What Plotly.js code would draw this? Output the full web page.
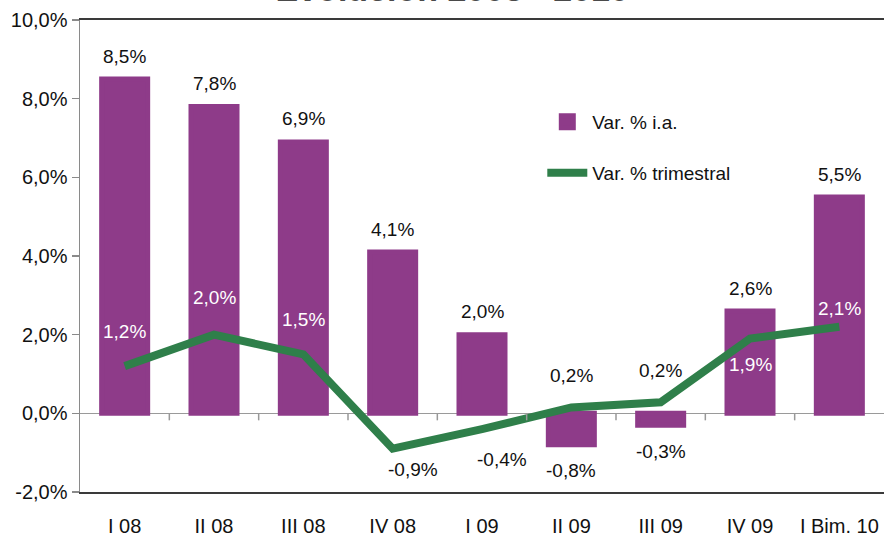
<!DOCTYPE html>
<html>
<head>
<meta charset="utf-8">
<script src="https://cdn.plot.ly/plotly-3.0.1.min.js"></script>
<style>html,body{margin:0;padding:0;background:#fff;}#chart{width:885px;height:540px;}</style>
</head>
<body>
<div id="chart"></div>
<script>
var categories = ["I 08", "II 08", "III 08", "IV 08", "I 09", "II 09", "III 09", "IV 09", "I Bim. 10"];
var varIA = [8.5, 7.8, 6.9, 4.1, 2.0, -0.8, -0.3, 2.6, 5.5];
var varIALabels = ["8,5%", "7,8%", "6,9%", "4,1%", "2,0%", "-0,8%", "-0,3%", "2,6%", "5,5%"];
var varTrim = [1.2, 2.0, 1.5, -0.9, -0.4, 0.15, 0.28, 1.9, 2.2];
var varTrimLabels = ["1,2%", "2,0%", "1,5%", "-0,9%", "-0,4%", "0,2%", "0,2%", "1,9%", "2,1%"];
var yTickVals = [-2, 0, 2, 4, 6, 8, 10];
var yTickText = ["-2,0%", "0,0%", "2,0%", "4,0%", "6,0%", "8,0%", "10,0%"];

var FONT = "'Liberation Sans', Arial, Helvetica, sans-serif";
var PURPLE = "#8e3b89";
var GREEN = "#2f7f4a";

// label placement for the line labels (pixel offsets and colours)
var trimStyle = [
  {dx: 0, dy: 35, c: "#ffffff"},
  {dx: 0, dy: 37, c: "#ffffff"},
  {dx: 0, dy: 35, c: "#ffffff"},
  {dx: 20, dy: -21, c: "#111111"},
  {dx: 20, dy: -30, c: "#111111"},
  {dx: 0, dy: 32, c: "#111111"},
  {dx: 0, dy: 32, c: "#111111"},
  {dx: 0, dy: -26, c: "#ffffff"},
  {dx: 0, dy: 18, c: "#ffffff"}
];

var annotations = [];
categories.forEach(function (c, i) {
  var v = varIA[i];
  annotations.push({
    x: c, y: v, xref: "x", yref: "y", text: varIALabels[i], showarrow: false,
    yanchor: "middle", yshift: v >= 0 ? 23 : -26,
    font: {family: FONT, size: 19, color: "#111111"}
  });
  annotations.push({
    x: c, y: varTrim[i], xref: "x", yref: "y", text: varTrimLabels[i], showarrow: false,
    yanchor: "middle", xshift: trimStyle[i].dx, yshift: trimStyle[i].dy,
    font: {family: FONT, size: 19, color: trimStyle[i].c}
  });
});

var shapes = [];
for (var i = 0; i < categories.length - 1; i++) {
  shapes.push({
    type: "line", xref: "x", yref: "y", x0: i + 0.5, x1: i + 0.5,
    ysizemode: "pixel", yanchor: 0, y0: 0, y1: -7,
    line: {color: "#999999", width: 1.5}
  });
}

var traces = [
  {
    type: "bar", x: categories, y: varIA, name: "Var. % i.a.",
    marker: {color: PURPLE, line: {color: PURPLE, width: 5}},
    legend: "legend", hoverinfo: "skip"
  },
  {
    type: "scatter", mode: "lines", x: categories, y: varTrim, name: "Var. % trimestral",
    line: {color: GREEN, width: 8}, legend: "legend2", hoverinfo: "skip"
  }
];

var layout = {
  width: 885, height: 540,
  margin: {l: 80, r: 1, t: 20, b: 48},
  paper_bgcolor: "#ffffff", plot_bgcolor: "#ffffff",
  font: {family: FONT, size: 20, color: "#111111"},
  title: {
    text: "<b>Evolución 2008 - 2010</b>",
    font: {family: FONT, size: 34, color: "#4a4a4a"},
    x: 0.511, xanchor: "center", xref: "container",
    y: 0.9985, yanchor: "bottom", yref: "container"
  },
  bargap: 0.485,
  showlegend: true,
  legend: {
    x: 0.575, y: 0.784, xanchor: "left", yanchor: "middle",
    bgcolor: "rgba(0,0,0,0)", font: {family: FONT, size: 19, color: "#111111"},
    itemwidth: 40
  },
  legend2: {
    x: 0.575, y: 0.676, xanchor: "left", yanchor: "middle",
    bgcolor: "rgba(0,0,0,0)", font: {family: FONT, size: 19, color: "#111111"},
    itemwidth: 40
  },
  xaxis: {
    type: "category", range: [-0.5, 8.5],
    showline: true, mirror: true, linecolor: "#3a3a3a", linewidth: 2,
    ticks: "", showgrid: false, zeroline: false,
    tickfont: {family: FONT, size: 20, color: "#111111"},
    ticklabelstandoff: 15, fixedrange: true
  },
  yaxis: {
    range: [-2, 10], tickvals: yTickVals, ticktext: yTickText,
    showline: true, linecolor: "#8a8a8a", linewidth: 1.5,
    ticks: "outside", ticklen: 7, tickcolor: "#8a8a8a", tickwidth: 1.5,
    showgrid: false, zeroline: true, zerolinecolor: "#9a9a9a", zerolinewidth: 1.5,
    tickfont: {family: FONT, size: 20, color: "#111111"},
    fixedrange: true
  },
  annotations: annotations,
  shapes: shapes
};

Plotly.newPlot("chart", traces, layout, {displayModeBar: false, staticPlot: true});
</script>
</body>
</html>
